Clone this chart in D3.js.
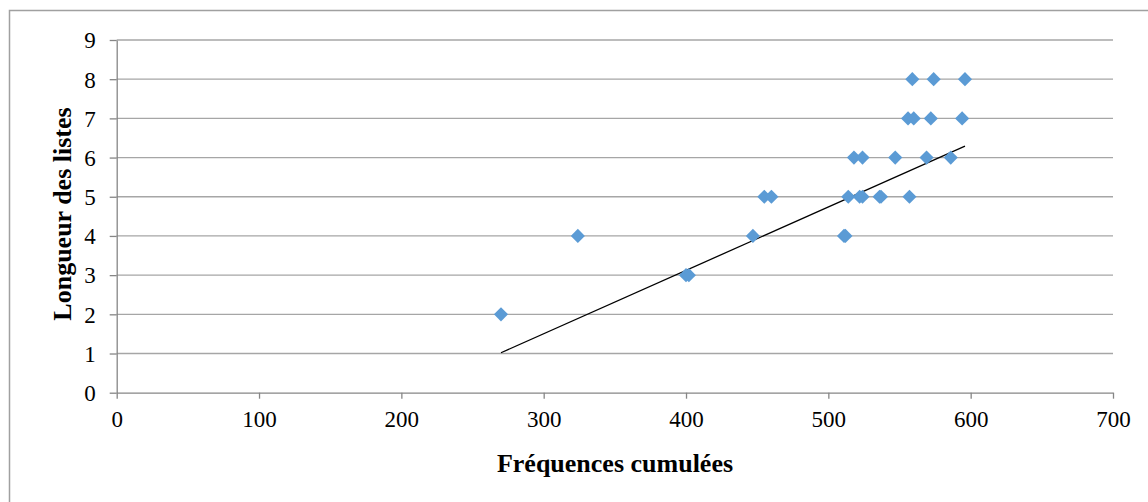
<!DOCTYPE html>
<html>
<head>
<meta charset="utf-8">
<script src="https://cdn.jsdelivr.net/npm/d3@7"></script>
<style>
  body { margin: 0; background: #fff; }
  svg { display: block; }
</style>
</head>
<body>
<div id="chart"></div>
<script>
// data
var freqX = [559, 574, 596, 556, 560, 572, 594, 518, 524, 547, 569, 586,
  455, 460, 514, 522, 524, 536, 537, 557, 324, 447, 511, 512, 400, 402, 270];
var lengthY = [8, 8, 8, 7, 7, 7, 7, 6, 6, 6, 6, 6,
  5, 5, 5, 5, 5, 5, 5, 5, 4, 4, 4, 4, 3, 3, 2];
var trendX = [270, 596];
var trendY = [1.02, 6.29];
var xTicks = [0, 100, 200, 300, 400, 500, 600, 700];
var yTicks = [0, 1, 2, 3, 4, 5, 6, 7, 8, 9];

function createChart() {
  var W = 1148, H = 502;
  var margin = { top: 40, right: 35, bottom: 109.3, left: 116.7 },
    width = 1113 - margin.left,
    height = 392.7 - margin.top;

  var svg = d3.select("#chart").append("svg")
    .attr("width", W)
    .attr("height", H);

  // outer frame (only top and left visible)
  svg.append("path")
    .attr("d", "M9.5," + H + "V10.5H" + W)
    .attr("fill", "none")
    .attr("stroke", "#a0a0a0")
    .attr("stroke-width", 1.5);

  var g = svg.append("g")
    .attr("transform", "translate(" + margin.left + "," + margin.top + ")");

  var x = d3.scaleLinear().domain([0, 700]).range([0, width]);
  var y = d3.scaleLinear().domain([0, 9]).range([height, 0]);

  // horizontal gridlines
  g.append("g")
    .selectAll("line")
    .data(yTicks.slice(1))
    .enter().append("line")
    .attr("x1", 0).attr("x2", width)
    .attr("y1", d => y(d)).attr("y2", d => y(d))
    .attr("stroke", "#a6a6a6")
    .attr("stroke-width", 1.3);

  var font = "'Liberation Serif', 'Times New Roman', serif";

  var xAxis = g.append("g")
    .attr("transform", "translate(0," + height + ")")
    .call(d3.axisBottom(x).tickValues(xTicks).tickSize(6).tickPadding(12).tickSizeOuter(0));
  var yAxis = g.append("g")
    .call(d3.axisLeft(y).tickValues(yTicks).tickSize(7).tickPadding(14).tickSizeOuter(0));

  [xAxis, yAxis].forEach(function (a) {
    a.select(".domain").attr("stroke", "#868686").attr("stroke-width", 1.3);
    a.selectAll(".tick line").attr("stroke", "#868686").attr("stroke-width", 1.3);
    a.selectAll("text")
      .attr("font-family", font)
      .attr("font-size", 23)
      .attr("fill", "#000");
  });
  yAxis.selectAll("text").attr("dy", "0.34em");

  // trend line
  var line = d3.line()
    .x(d => x(d[0]))
    .y(d => y(d[1]));
  g.append("path")
    .datum(d3.zip(trendX, trendY))
    .attr("d", line)
    .attr("fill", "none")
    .attr("stroke", "#000")
    .attr("stroke-width", 1.3);

  // diamond markers
  var diamond = d3.symbol().type(d3.symbolSquare).size(100);
  g.append("g")
    .selectAll("path")
    .data(d3.zip(freqX, lengthY))
    .enter().append("path")
    .attr("d", diamond)
    .attr("transform", d => "translate(" + x(d[0]) + "," + y(d[1]) + ") rotate(45)")
    .attr("fill", "#5b9bd5");

  // axis titles
  svg.append("text")
    .attr("x", 615)
    .attr("y", 472)
    .attr("text-anchor", "middle")
    .attr("font-family", font)
    .attr("font-size", 26)
    .attr("font-weight", "bold")
    .text("Fréquences cumulées");

  svg.append("text")
    .attr("transform", "translate(71,214) rotate(-90)")
    .attr("text-anchor", "middle")
    .attr("font-family", font)
    .attr("font-size", 26)
    .attr("font-weight", "bold")
    .text("Longueur des listes");
}

createChart();
</script>
</body>
</html>
